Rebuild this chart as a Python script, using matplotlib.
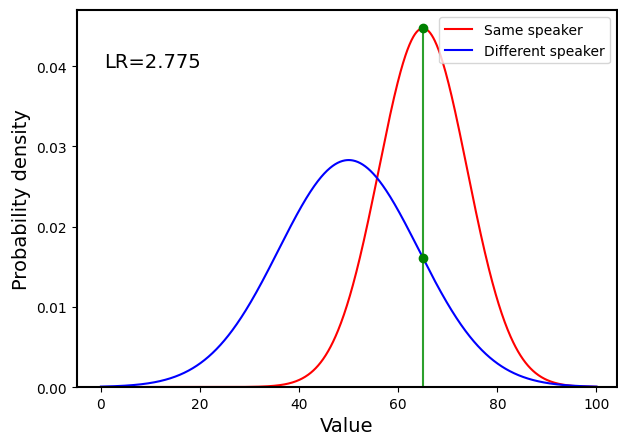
import numpy as np
import matplotlib
matplotlib.use("Agg")
import matplotlib.pyplot as plt

# normal distributions
same_mean, same_sd = 65, 8.92
diff_mean, diff_sd = 50, 14.1
x_obs = 65
lr_text = "LR=2.775"
labels = ["Same speaker", "Different speaker"]

def dens(x, m, s):
    return np.exp(-(x - m) ** 2 / (2 * s ** 2)) / (s * np.sqrt(2 * np.pi))

x = np.linspace(0, 100, 1000)
y_same = dens(x, same_mean, same_sd)
y_diff = dens(x, diff_mean, diff_sd)
p_same = dens(x_obs, same_mean, same_sd)
p_diff = dens(x_obs, diff_mean, diff_sd)

fig = plt.figure(figsize=(6.18, 4.35), dpi=100)
ax = fig.add_axes([0.124, 0.108, 0.874, 0.866])
ax.plot(x, y_same, color="red", label=labels[0])
ax.plot(x, y_diff, color="blue", label=labels[1])
ax.plot([x_obs, x_obs], [0, p_same], color="tab:green")
ax.plot([x_obs, x_obs], [p_same, p_diff], "o", color="green")
ax.set_xlim(-4.9, 104.1)
ax.set_ylim(bottom=0)
ax.set_xlabel("Value", fontsize=14)
ax.set_ylabel("Probability density", fontsize=14)
ax.text(0.05, 0.85, lr_text, transform=ax.transAxes, fontsize=14)
ax.legend(loc="upper right")
for sp in ax.spines.values():
    sp.set_linewidth(1.5)
fig.savefig("out.png", dpi=100)
